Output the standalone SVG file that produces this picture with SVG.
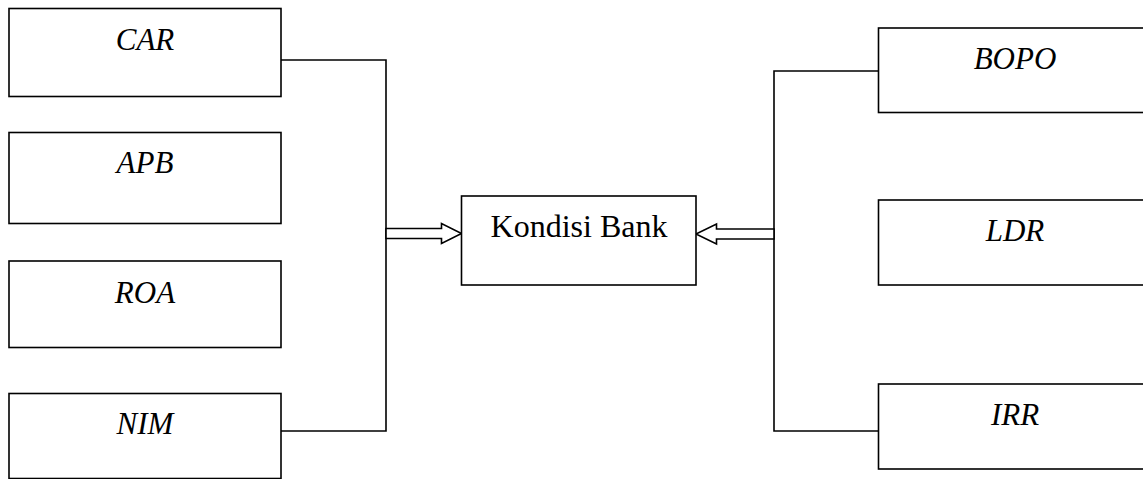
<svg xmlns="http://www.w3.org/2000/svg" width="1143" height="479" viewBox="0 0 1143 479">
<style>
.box{fill:#fff;stroke:#000;stroke-width:1.6}
.lbl{font-family:"Liberation Serif","Times New Roman",serif;font-size:31px;font-style:italic;fill:#000;text-anchor:middle}
.main{font-family:"Liberation Serif","Times New Roman",serif;font-size:32px;fill:#000;text-anchor:middle}
.ln{fill:none;stroke:#000;stroke-width:1.6}
.arr{fill:#fff;stroke:#000;stroke-width:1.6;stroke-linejoin:miter}
</style>
<rect width="1143" height="479" fill="#fff"/>
<g id="connectors">
<polyline class="ln" points="281,60 386,60 386,431 281,431"/>
<polyline class="ln" points="878,71 774,71 774,431 878,431"/>
<polygon class="arr" points="386,228.5 441.5,228.5 441.5,223.5 461.5,233.5 441.5,243.5 441.5,238.5 386,238.5"/>
<polygon class="arr" points="774,229 716.5,229 716.5,224 696,234 716.5,244 716.5,239 774,239"/>
</g>
<g id="node-car"><rect class="box" x="9" y="8.5" width="272" height="88"/><text class="lbl" x="145" y="50">CAR</text></g>
<g id="node-apb"><rect class="box" x="9" y="132.5" width="272" height="91"/><text class="lbl" x="145" y="173">APB</text></g>
<g id="node-roa"><rect class="box" x="9" y="261" width="272" height="86.5"/><text class="lbl" x="145" y="302.5">ROA</text></g>
<g id="node-nim"><rect class="box" x="9" y="393.5" width="272" height="85"/><text class="lbl" x="145" y="434">NIM</text></g>
<g id="node-kondisi"><rect class="box" x="461.5" y="196" width="234.5" height="89"/><text class="main" x="579" y="237.3">Kondisi Bank</text></g>
<g id="node-bopo"><rect class="box" x="878.5" y="28" width="272" height="84.5"/><text class="lbl" x="1015" y="68.5">BOPO</text></g>
<g id="node-ldr"><rect class="box" x="878.5" y="200" width="272" height="85"/><text class="lbl" x="1015" y="241">LDR</text></g>
<g id="node-irr"><rect class="box" x="878.5" y="384" width="272" height="85"/><text class="lbl" x="1015" y="425">IRR</text></g>
</svg>
